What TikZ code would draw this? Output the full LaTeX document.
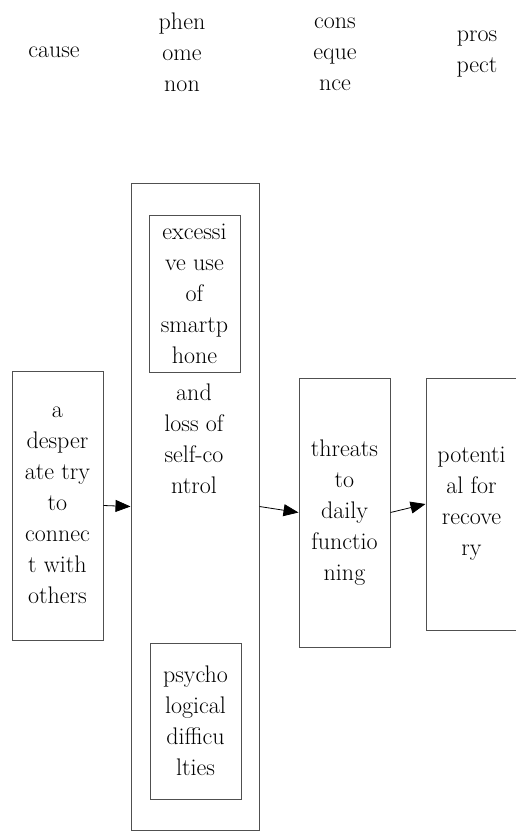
\documentclass[tikz,border=0pt]{standalone}
\usepackage{tikz}
\usetikzlibrary{arrows.meta, positioning}
\definecolor{boxgray}{HTML}{505050}
\tikzset{
  stagebox/.style={draw=boxgray, line width=1pt, minimum width=91pt, inner sep=0pt, align=center, font=\fontsize{24}{31}\selectfont},
  headtext/.style={align=center, inner sep=0pt, font=\fontsize{24}{31}\selectfont},
  flowarrow/.style={-{Triangle[length=15pt,width=12pt]}, line width=0.8pt, black}
}

\begin{document}
\begin{tikzpicture}[x=1pt, y=-1pt]
  \clip (0,0) rectangle (516,831);

  \node[headtext] (causehead) at (54,52) {cause};
  \node[headtext] (phenhead) at (182,52) {phen\\ome\\non};
  \node[headtext] (conshead) at (335,54) {cons\\eque\\nce};
  \node[headtext] (proshead) at (477,54.5) {pros\\pect};

  \node[stagebox, minimum height=269pt] (cause) at (57.5,505.5) {a\\desper\\ate try\\to\\connec\\t with\\others};
  \node[stagebox, minimum width=128pt, minimum height=647pt] (phen) at (195,506.5) {};
  \node[stagebox, minimum height=157pt] (overuse) at (194.5,293.5) {excessi\\ve use\\of\\smartp\\hone};
  \node[headtext] (selfctrl) at (194,439) {and\\loss of\\self-co\\ntrol};
  \node[stagebox, minimum height=156pt] (psych) at (195.5,721) {psycho\\logical\\difficu\\lties};
  \node[stagebox, minimum height=269pt] (cons) at (344.5,512.5) {threats\\to\\daily\\functio\\ning};
  \node[stagebox, minimum height=252pt] (pros) at (471.5,504) {potenti\\al for\\recove\\ry};

  \draw[flowarrow] (cause.east) -- (phen.west);
  \draw[flowarrow] (phen.east) -- (cons.west);
  \draw[flowarrow] (cons.east) -- (pros.west);
\end{tikzpicture}
\end{document}
